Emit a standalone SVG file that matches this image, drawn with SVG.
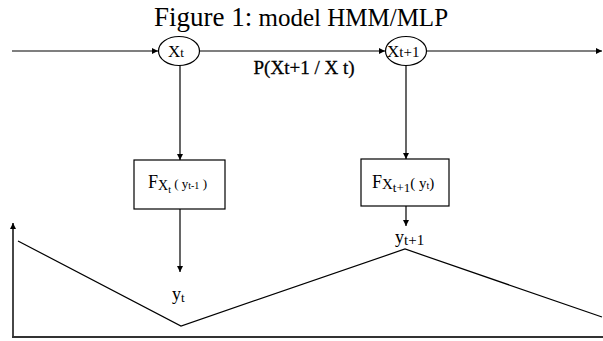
<svg xmlns="http://www.w3.org/2000/svg" width="603" height="341" viewBox="0 0 603 341">
<style>
text{font-family:"Liberation Serif","Times New Roman",serif;fill:#000}
.ln{stroke:#000;stroke-width:1.2;fill:none}
.ax{stroke:#333;stroke-width:1.8;fill:none}
.nd{stroke:#000;stroke-width:1.2;fill:#fff}
</style>
<defs>
<marker id="ah" viewBox="0 0 10 10" refX="10" refY="5" markerWidth="7" markerHeight="6" markerUnits="userSpaceOnUse" orient="auto">
<path d="M0,0L10,5L0,10z" fill="#000"/>
</marker>
</defs>
<rect width="603" height="341" fill="#fff"/>
<text x="301" y="26" text-anchor="middle"><tspan font-size="27">Figure 1:</tspan><tspan font-size="25"> model HMM/MLP</tspan></text>
<g id="connectors">
<line class="ln" x1="12" y1="51" x2="158" y2="51" marker-end="url(#ah)"/>
<line class="ln" x1="200" y1="51" x2="385" y2="51" marker-end="url(#ah)"/>
<line class="ln" x1="427" y1="51" x2="602" y2="51" marker-end="url(#ah)"/>
<line class="ln" x1="180" y1="65" x2="180" y2="160" marker-end="url(#ah)"/>
<line class="ln" x1="406" y1="65" x2="406" y2="159" marker-end="url(#ah)"/>
<line class="ln" x1="180" y1="209" x2="180" y2="272" marker-end="url(#ah)"/>
<line class="ln" x1="406" y1="206" x2="406" y2="226" marker-end="url(#ah)"/>
<text x="304" y="74" text-anchor="middle" font-size="19" stroke="#000" stroke-width="0.3">P(Xt+1 / X t)</text>
</g>
<g id="node-xt">
<ellipse class="nd" cx="179" cy="51" rx="20.5" ry="14.5"/>
<text x="168" y="57" font-size="17">X<tspan font-size="13">t</tspan></text>
</g>
<g id="node-xt1">
<ellipse class="nd" cx="406" cy="51" rx="20.5" ry="14.5"/>
<text x="387" y="57" font-size="17">X<tspan font-size="15">t+1</tspan></text>
</g>
<g id="box-f1">
<rect class="nd" x="134" y="160" width="91" height="49"/>
<text x="148" y="188" font-size="18">F<tspan font-size="14" dy="2">X</tspan><tspan font-size="10" dy="3">t</tspan><tspan font-size="13" dy="-5"> ( y</tspan><tspan font-size="10" dy="1">t-1</tspan><tspan font-size="13" dy="-1">  )</tspan></text>
</g>
<g id="box-f2">
<rect class="nd" x="361" y="159" width="88" height="47"/>
<text x="372" y="188" font-size="18">F<tspan font-size="15" dy="1">X</tspan><tspan font-size="13" dy="3">t+1</tspan><tspan font-size="15" dy="-4">( y</tspan><tspan font-size="10" dy="1">t</tspan><tspan font-size="15" dy="-1">)</tspan></text>
</g>
<g id="label-yt">
<text x="172" y="300" font-size="18">y<tspan font-size="13" dy="2">t</tspan></text>
</g>
<g id="label-yt1">
<text x="395" y="243" font-size="18">y<tspan font-size="15" dy="2">t+1</tspan></text>
</g>
<g id="chart">
<line class="ax" x1="13" y1="337" x2="13" y2="223" marker-end="url(#ah)"/>
<line class="ax" x1="12" y1="337" x2="603" y2="337"/>
<polyline class="ln" stroke-width="1" points="18,241 181,326 405,249 602,317"/>
</g>
</svg>
